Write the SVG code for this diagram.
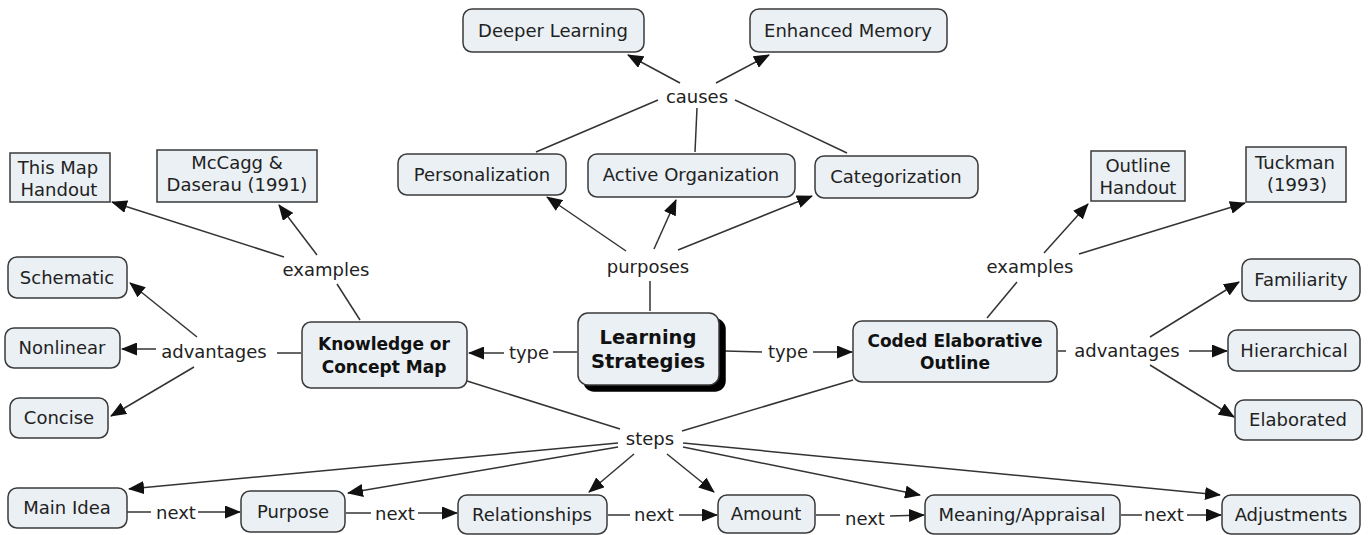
<svg xmlns="http://www.w3.org/2000/svg" width="1369" height="535" viewBox="0 0 1369 535">
<defs>
<marker id="ah" viewBox="0 0 16 13" refX="15" refY="6.5" markerWidth="16" markerHeight="13" markerUnits="userSpaceOnUse" orient="auto"><path d="M0,0 L16,6.5 L0,13 z" fill="#111"/></marker>
<style>
.n rect{fill:#eaf0f4;stroke:#3a3a3a;stroke-width:1.5}
text{font-family:"DejaVu Sans","Liberation Sans",sans-serif;font-size:18px;fill:#222;text-anchor:middle}
.b text{font-weight:bold;font-size:17px;fill:#111}
.c path{stroke:#333;stroke-width:1.5;fill:none}
.c path.a{marker-end:url(#ah)}
</style>
</defs>
<rect width="1369" height="535" fill="#fff"/>
<g class="c" id="connectors">
<path d="M650,311 L650,281"/>
<path class="a" d="M626,251 L547,197"/>
<path class="a" d="M654,249 L676,200"/>
<path class="a" d="M678,250 L812,196"/>
<path d="M536,152 L658,100"/>
<path d="M695,152 L697,108"/>
<path d="M847,153 L735,100"/>
<path class="a" d="M680,83 L628,55"/>
<path class="a" d="M716,83 L769,55"/>
<path d="M577,352 L553,352"/>
<path class="a" d="M504,353 L469,353"/>
<path d="M725,351 L762,352"/>
<path class="a" d="M813,352 L852,352"/>
<path d="M360,320 L337,284"/>
<path class="a" d="M284,257 L112,202"/>
<path class="a" d="M317,255 L279,205"/>
<path d="M301,353 L277,353"/>
<path class="a" d="M197,337 L130,283"/>
<path class="a" d="M156,349 L122,349"/>
<path class="a" d="M194,367 L111,416"/>
<path d="M987,318 L1017,282"/>
<path class="a" d="M1044,253 L1088,204"/>
<path class="a" d="M1079,254 L1245,203"/>
<path d="M1058,351 L1066,351"/>
<path class="a" d="M1150,337 L1239,282"/>
<path class="a" d="M1189,351 L1227,351"/>
<path class="a" d="M1150,365 L1234,417"/>
<path d="M467,381 L620,429"/>
<path d="M853,380 L682,431"/>
<path class="a" d="M618,443 L129,489"/>
<path class="a" d="M618,447 L348,493"/>
<path class="a" d="M634,454 L589,492"/>
<path class="a" d="M667,454 L714,492"/>
<path class="a" d="M683,447 L920,495"/>
<path class="a" d="M683,443 L1220,495"/>
<path d="M127,512 L151,512"/>
<path class="a" d="M198,512 L240,512"/>
<path d="M346,513 L371,513"/>
<path class="a" d="M418,513 L457,513"/>
<path d="M608,515 L630,515"/>
<path class="a" d="M679,515 L717,515"/>
<path d="M816,515 L840,515"/>
<path class="a" d="M890,516 L924,515"/>
<path d="M1121,515 L1142,515"/>
<path class="a" d="M1187,515 L1221,515"/>
</g>
<g id="links">
<text x="648" y="273">purposes</text>
<text x="697" y="103">causes</text>
<text x="529" y="359">type</text>
<text x="788" y="358">type</text>
<text x="326" y="276">examples</text>
<text x="214" y="358">advantages</text>
<text x="1030" y="273">examples</text>
<text x="1127" y="357">advantages</text>
<text x="650" y="445">steps</text>
<text x="176" y="519">next</text>
<text x="395" y="520">next</text>
<text x="654" y="521">next</text>
<text x="865" y="525">next</text>
<text x="1164" y="521">next</text>
</g>
<g class="n" id="deeper"><rect x="463" y="9" width="181" height="43" rx="9"/><text x="553" y="37">Deeper Learning</text></g>
<g class="n" id="enhanced"><rect x="750" y="9" width="197" height="43" rx="9"/><text x="848" y="37">Enhanced Memory</text></g>
<g class="n" id="personalization"><rect x="398" y="154" width="168" height="41" rx="9"/><text x="482" y="181">Personalization</text></g>
<g class="n" id="active"><rect x="588" y="154" width="207" height="43" rx="9"/><text x="691" y="181">Active Organization</text></g>
<g class="n" id="categorization"><rect x="815" y="156" width="163" height="42" rx="9"/><text x="896" y="183">Categorization</text></g>
<g class="n b" id="learning"><rect x="584" y="319" width="141" height="72" rx="10" style="fill:#000;stroke:#000"/><rect x="578" y="313" width="141" height="72" rx="10"/><text x="648" y="344" style="font-size:19.5px">Learning</text><text x="648" y="368" style="font-size:19.5px">Strategies</text></g>
<g class="n b" id="kcm"><rect x="302" y="322" width="165" height="66" rx="9"/><text x="384" y="350">Knowledge or</text><text x="384" y="373">Concept Map</text></g>
<g class="n b" id="ceo"><rect x="853" y="321" width="204" height="61" rx="9"/><text x="955" y="347">Coded Elaborative</text><text x="955" y="369">Outline</text></g>
<g class="n" id="thismap"><rect x="10" y="153" width="100" height="49" rx="0"/><text x="58" y="174">This Map</text><text x="59" y="196">Handout</text></g>
<g class="n" id="mccagg"><rect x="157" y="150" width="160" height="52" rx="0"/><text x="237" y="169">McCagg &amp;</text><text x="237" y="191">Daserau (1991)</text></g>
<g class="n" id="outline"><rect x="1091" y="151" width="94" height="50" rx="0"/><text x="1138" y="172">Outline</text><text x="1138" y="194">Handout</text></g>
<g class="n" id="tuckman"><rect x="1246" y="147" width="100" height="55" rx="0"/><text x="1295" y="169">Tuckman</text><text x="1297" y="191">(1993)</text></g>
<g class="n" id="schematic"><rect x="8" y="257" width="119" height="41" rx="9"/><text x="67" y="284">Schematic</text></g>
<g class="n" id="nonlinear"><rect x="5" y="328" width="115" height="40" rx="9"/><text x="62" y="354">Nonlinear</text></g>
<g class="n" id="concise"><rect x="10" y="398" width="98" height="40" rx="9"/><text x="59" y="424">Concise</text></g>
<g class="n" id="familiarity"><rect x="1242" y="259" width="118" height="42" rx="9"/><text x="1301" y="286">Familiarity</text></g>
<g class="n" id="hierarchical"><rect x="1228" y="330" width="132" height="41" rx="9"/><text x="1294" y="357">Hierarchical</text></g>
<g class="n" id="elaborated"><rect x="1235" y="400" width="127" height="40" rx="9"/><text x="1298" y="426">Elaborated</text></g>
<g class="n" id="mainidea"><rect x="8" y="488" width="119" height="40" rx="9"/><text x="67" y="514">Main Idea</text></g>
<g class="n" id="purpose"><rect x="241" y="491" width="104" height="41" rx="9"/><text x="293" y="518">Purpose</text></g>
<g class="n" id="relationships"><rect x="458" y="495" width="149" height="39" rx="9"/><text x="532" y="521">Relationships</text></g>
<g class="n" id="amount"><rect x="718" y="495" width="97" height="38" rx="9"/><text x="766" y="520">Amount</text></g>
<g class="n" id="meaning"><rect x="925" y="495" width="195" height="39" rx="9"/><text x="1022" y="521">Meaning/Appraisal</text></g>
<g class="n" id="adjustments"><rect x="1222" y="495" width="138" height="39" rx="9"/><text x="1291" y="521">Adjustments</text></g>
</svg>
